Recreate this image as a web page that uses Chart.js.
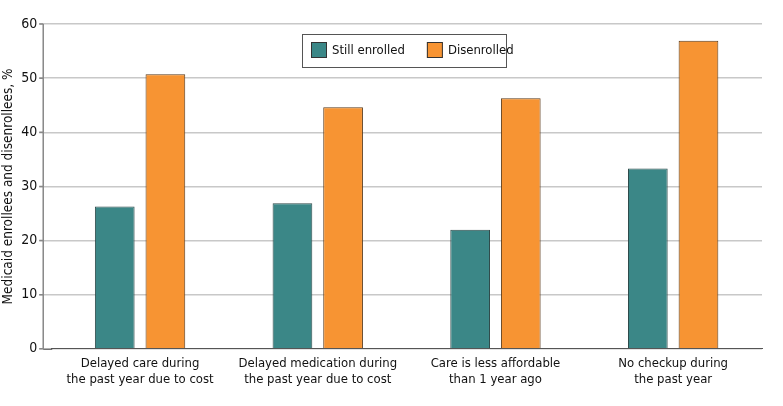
<!DOCTYPE html>
<html>
<head>
    <title>Medicaid enrollees and disenrollees</title>
    <script src="https://cdn.jsdelivr.net/npm/chart.js@4/dist/chart.umd.min.js"></script>
    <style>
        body {
            margin: 0;
            background: #fff;
        }
        .chart-container {
            position: relative;
            width: 783px;
            height: 406px;
        }
    </style>
</head>
<body>
    <div class="chart-container">
        <canvas id="chart"></canvas>
    </div>

    <script>
        const categories = [
            ['Delayed care during', 'the past year due to cost'],
            ['Delayed medication during', 'the past year due to cost'],
            ['Care is less affordable', 'than 1 year ago'],
            ['No checkup during', 'the past year']
        ];
        const stillEnrolled = [26.3, 26.9, 22.0, 33.3];
        const disenrolled = [50.7, 44.6, 46.3, 56.9];
        const yTicks = [0, 10, 20, 30, 40, 50, 60];

        const fontFamily = "'Liberation Sans Narrow', 'DejaVu Sans Condensed', 'Noto Sans', sans-serif";
        const gutter = 8; // axis line sits a little left of the first category

        // legend drawn inside the plot area as a boxed key
        const boxLegend = {
            id: 'boxLegend',
            afterDraw(chart) {
                const ctx = chart.ctx;
                const x0 = 302, y0 = 34, w = 204, h = 33;
                ctx.save();
                ctx.fillStyle = '#fff';
                ctx.fillRect(x0, y0, w, h);
                ctx.strokeStyle = '#555';
                ctx.lineWidth = 1;
                ctx.strokeRect(x0 + 0.5, y0 + 0.5, w, h);
                ctx.font = '13px ' + fontFamily;
                ctx.textBaseline = 'middle';
                let x = x0 + 9;
                chart.data.datasets.forEach(ds => {
                    ctx.fillStyle = ds.backgroundColor;
                    ctx.fillRect(x, y0 + 8, 16, 16);
                    ctx.strokeStyle = '#333';
                    ctx.strokeRect(x + 0.5, y0 + 8.5, 15, 15);
                    ctx.fillStyle = '#111';
                    ctx.textAlign = 'left';
                    ctx.fillText(ds.label, x + 21, y0 + 16.5);
                    x += 21 + ctx.measureText(ds.label).width + 22;
                });
                ctx.restore();
            }
        };

        // y axis line and tick marks, set slightly left of the chart area
        const axisLine = {
            id: 'axisLine',
            afterDraw(chart) {
                const ctx = chart.ctx;
                const y = chart.scales.y;
                const area = chart.chartArea;
                const ax = area.left - gutter;
                ctx.save();
                ctx.strokeStyle = '#888';
                ctx.lineWidth = 1.5;
                ctx.beginPath();
                ctx.moveTo(ax, area.top);
                ctx.lineTo(ax, area.bottom);
                yTicks.forEach(v => {
                    const py = y.getPixelForValue(v);
                    ctx.moveTo(ax - 4, py);
                    ctx.lineTo(ax, py);
                });
                ctx.stroke();
                ctx.strokeStyle = '#555';
                ctx.lineWidth = 1;
                ctx.beginPath();
                ctx.moveTo(ax, area.bottom + 0.5);
                ctx.lineTo(area.left + 1, area.bottom + 0.5);
                ctx.stroke();
                ctx.restore();
            }
        };

        new Chart(document.getElementById('chart'), {
            type: 'bar',
            data: {
                labels: categories,
                datasets: [{
                    label: 'Still enrolled',
                    data: stillEnrolled,
                    backgroundColor: '#3b8787',
                    borderColor: '#2e4a4a',
                    borderWidth: 1,
                    categoryPercentage: 0.57,
                    barPercentage: 0.784
                }, {
                    label: 'Disenrolled',
                    data: disenrolled,
                    backgroundColor: '#f79433',
                    borderColor: '#5a3a1a',
                    borderWidth: 1,
                    categoryPercentage: 0.57,
                    barPercentage: 0.784
                }]
            },
            options: {
                responsive: true,
                maintainAspectRatio: false,
                animation: false,
                layout: {
                    padding: { top: 24, right: 21, bottom: 12, left: 0 }
                },
                plugins: {
                    legend: { display: false },
                    tooltip: { enabled: false }
                },
                scales: {
                    x: {
                        grid: { display: false, drawTicks: false },
                        border: { color: '#555', width: 1 },
                        ticks: {
                            color: '#111',
                            font: { family: fontFamily, size: 13 },
                            padding: 7,
                            maxRotation: 0
                        }
                    },
                    y: {
                        min: 0,
                        max: 60,
                        afterBuildTicks(axis) {
                            axis.ticks = yTicks.map(v => ({ value: v }));
                        },
                        grid: {
                            color: '#c8c8c8',
                            lineWidth: 1.5,
                            tickLength: 12,
                            tickColor: '#c8c8c8'
                        },
                        border: { display: false },
                        ticks: {
                            color: '#111',
                            font: { family: fontFamily, size: 14 },
                            padding: 2
                        },
                        title: {
                            display: true,
                            text: 'Medicaid enrollees and disenrollees, %',
                            color: '#111',
                            font: { family: fontFamily, size: 13.5 },
                            padding: { top: 0, bottom: 3 }
                        }
                    }
                }
            },
            plugins: [boxLegend, axisLine]
        });
    </script>
</body>
</html>
